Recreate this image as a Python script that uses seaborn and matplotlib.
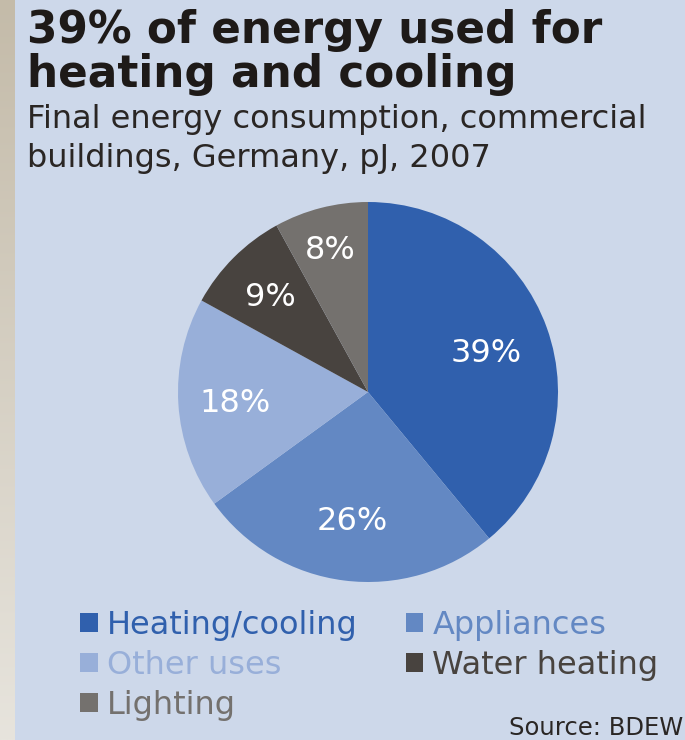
import numpy as np
import matplotlib
matplotlib.use("Agg")
import matplotlib.pyplot as plt
from matplotlib.patches import Patch
from matplotlib.colors import LinearSegmentedColormap
import seaborn as sns

categories = ["Heating/cooling", "Appliances", "Other uses", "Water heating", "Lighting"]
shares = [39, 26, 18, 9, 8]
colors = ["#3060ad", "#6388c3", "#98afd9", "#48433f", "#74716e"]
label_dist = [0.66, 0.67, 0.70, 0.73, 0.79]

title_lines = ["39% of energy used for", "heating and cooling"]
subtitle_lines = ["Final energy consumption, commercial", "buildings, Germany, pJ, 2007"]
source = "Source: BDEW"

sns.set_theme(style="white")
plt.rcParams["font.family"] = ["DejaVu Sans"]

W, H = 685, 740
fig = plt.figure(figsize=(W / 100, H / 100), dpi=100)
bg = "#cdd8ea"
fig.patch.set_facecolor(bg)

# left beige strip (gradient)
strip = fig.add_axes([0, 0, 15 / W, 1])
grad = np.linspace(0, 1, 256).reshape(-1, 1)
cmap = LinearSegmentedColormap.from_list("s", ["#c4bba9", "#e7e4dd"])
strip.imshow(grad, aspect="auto", cmap=cmap, extent=[0, 1, 0, 1], origin="upper")
strip.axis("off")

# pie
cx, cy, r = 368, 392, 190
ax = fig.add_axes([(cx - r) / W, (H - cy - r) / H, 2 * r / W, 2 * r / H])
ax.set_facecolor("none")
pal = sns.color_palette(colors)
wedges, _ = ax.pie(shares, colors=pal, startangle=90, counterclock=False,
                   wedgeprops=dict(linewidth=0))
for w, s, d in zip(wedges, shares, label_dist):
    th = np.deg2rad((w.theta1 + w.theta2) / 2)
    ax.text(d * np.cos(th), d * np.sin(th), f"{s}%", color="white",
            fontsize=23, ha="center", va="center_baseline")
ax.set_xlim(-1, 1)
ax.set_ylim(-1, 1)
ax.set_aspect("equal")
ax.axis("off")

# titles
def ftext(x, y, s, **kw):
    fig.text(x / W, 1 - y / H, s, **kw)

ftext(27, 43, title_lines[0], fontsize=31.5, fontweight="bold", color="#1e1a18", va="baseline")
ftext(27, 87, title_lines[1], fontsize=31.5, fontweight="bold", color="#1e1a18", va="baseline")
ftext(27, 128, subtitle_lines[0], fontsize=23, color="#2a2624", va="baseline")
ftext(27, 167, subtitle_lines[1], fontsize=23, color="#2a2624", va="baseline")
ftext(683, 735, source, fontsize=17.5, color="#2a2624", va="baseline", ha="right")

# legend: column-wise order
order = [0, 2, 4, 1, 3]
handles = [Patch(facecolor=colors[i], edgecolor="none") for i in order]
labels = [categories[i] for i in order]
leg = fig.legend(handles, labels, loc="upper left", bbox_to_anchor=(80 / W, 1 - 610 / H),
                 ncol=2, frameon=False, fontsize=23, handlelength=0.56, handleheight=0.56,
                 handletextpad=0.28, columnspacing=1.5, labelspacing=0.28, borderpad=0,
                 borderaxespad=0)
for t, i in zip(leg.get_texts(), order):
    t.set_color(colors[i])

fig.savefig("out.png", dpi=100, facecolor=bg)
